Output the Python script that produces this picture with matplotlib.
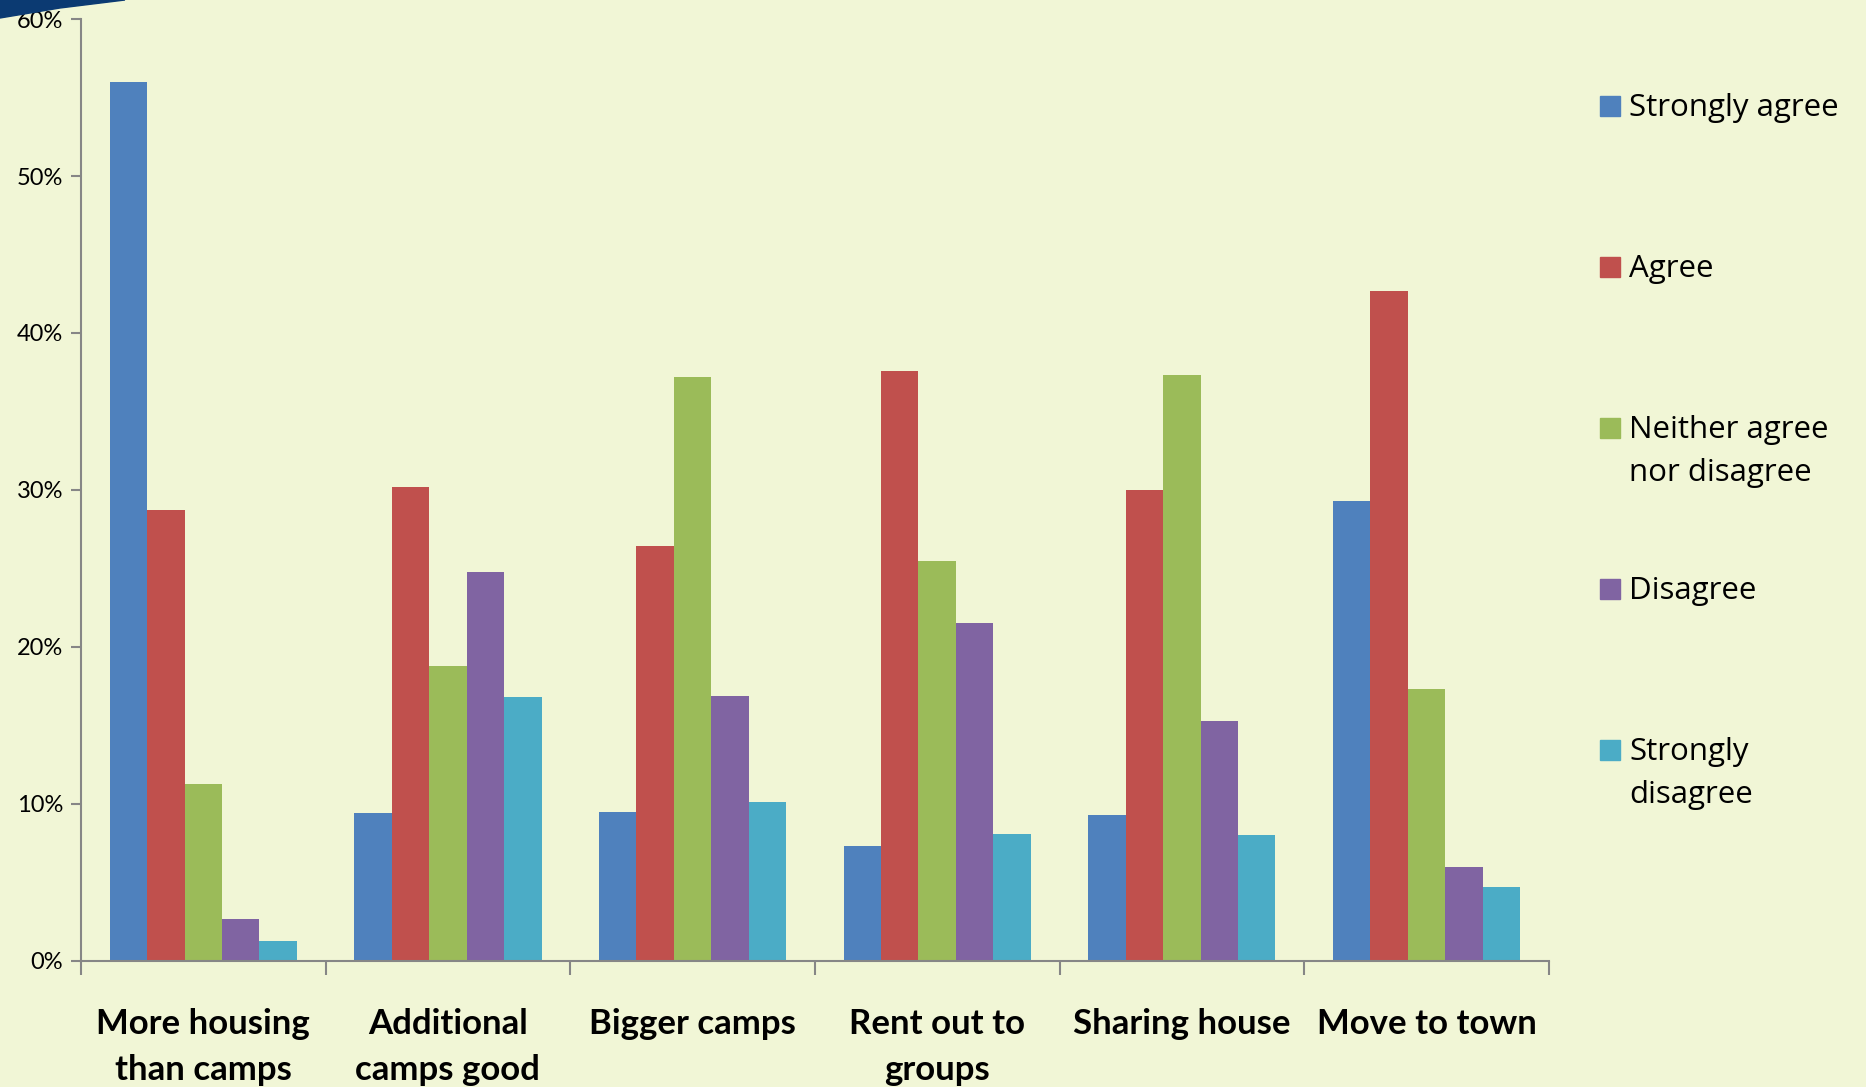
import matplotlib
matplotlib.use('Agg')
import matplotlib.pyplot as plt
from matplotlib.patches import Rectangle, Polygon
import numpy as np

# data (percent)
categories = ['More housing\nthan camps', 'Additional\ncamps good', 'Bigger camps',
              'Rent out to\ngroups', 'Sharing house', 'Move to town']
series = ['Strongly agree', 'Agree', 'Neither agree\nnor disagree', 'Disagree', 'Strongly\ndisagree']
strongly_agree = [56.0, 9.4, 9.5, 7.3, 9.3, 29.3]
agree = [28.7, 30.2, 26.4, 37.6, 30.0, 42.7]
neither = [11.3, 18.8, 37.2, 25.5, 37.3, 17.3]
disagree = [2.7, 24.8, 16.9, 21.5, 15.3, 6.0]
strongly_disagree = [1.3, 16.8, 10.1, 8.1, 8.0, 4.7]
yticks = [0, 10, 20, 30, 40, 50, 60]

colors = ['#4F81BD', '#C0504D', '#9BBB59', '#8064A2', '#4BACC6']
bg = '#F1F6D6'

fig = plt.figure(figsize=(18.66, 10.87), dpi=100, facecolor=bg)
ax = fig.add_axes([0.0434, 0.116, 0.7866, 0.8665], facecolor=bg)

data = [strongly_agree, agree, neither, disagree, strongly_disagree]
x = np.arange(len(categories))
w = 0.153
for i, vals in enumerate(data):
    ax.bar(x + (i - 2) * w, vals, width=w, color=colors[i], edgecolor='none')

ax.set_xlim(-0.5, len(categories) - 0.5)
ax.set_ylim(0, 60)
ax.set_yticks(yticks)
ax.set_yticklabels(['%d%%' % v for v in yticks], fontsize=17, family='Lato')
ax.set_xticks(np.arange(len(categories) + 1) - 0.5)
ax.set_xticklabels([])
ax.set_xticks(x, minor=True)
ax.set_xticklabels(categories, minor=True, fontsize=25, fontweight='bold', family='Lato',
                   linespacing=1.55)
ax.tick_params(axis='x', which='minor', length=0, pad=34)
ax.tick_params(axis='x', which='major', length=10, color='#868686', width=1.5)
ax.tick_params(axis='y', length=7, color='#868686', width=1.5, pad=6)
for s in ['top', 'right']:
    ax.spines[s].set_visible(False)
for s in ['left', 'bottom']:
    ax.spines[s].set_color('#868686')
    ax.spines[s].set_linewidth(1.5)

# legend placed by hand, markers evenly spaced
W, H = 1866.0, 1087.0
for i, lab in enumerate(series):
    yc = 106 + i * 161
    fig.patches.append(Rectangle((1600 / W, 1 - (yc + 10) / H), 20 / W, 20 / H,
                                 transform=fig.transFigure, color=colors[i]))
    fig.text(1629 / W, 1 - (yc - 13) / H, lab, fontsize=22.5, family='Open Sans',
             va='top', ha='left', linespacing=1.55)

# blue swoosh in the corner
fig.patches.append(Polygon([(0, 1), (125 / W, 1), (60 / W, 1 - 8 / H), (0, 1 - 18 / H)],
                           closed=True, transform=fig.transFigure, color='#0B3A72'))

fig.savefig('out.png', dpi=100, facecolor=bg)
